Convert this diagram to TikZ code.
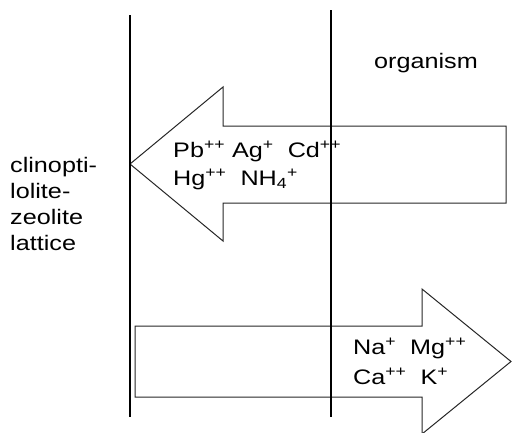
\documentclass[tikz,border=0pt]{standalone}
\usepackage{fontspec}
\setmainfont{Liberation Sans}[FakeStretch=1.2]
\begin{document}
\begin{tikzpicture}[x=1pt,y=-1pt,
  lbl/.style={anchor=base west,inner sep=0pt,font=\fontsize{21}{26}\selectfont},
  divider/.style={draw=black,line width=1.3pt},
  flow/.style={draw=black!85,line width=1pt,line join=miter}]
\useasboundingbox (0,0) rectangle (512,432);
% arrows
\draw[flow] (130,164) -- (223,87) -- (223,126) -- (506,126) -- (506,203) -- (223,203) -- (223,241) -- cycle;
\draw[flow] (135,326) -- (422,326) -- (422,289) -- (511,361.5) -- (422,434) -- (422,397) -- (135,397) -- cycle;
% dividers
\coordinate (lt) at (130,15);
\coordinate (lb) at (130,417);
\coordinate (rt) at (331,10);
\coordinate (rb) at (331,417);
\draw[divider] (lt) -- (lb);
\draw[divider] (rt) -- (rb);
% labels
\node[lbl] (org) at (374,68) {organism};
\node[lbl] (z1) at (10,172) {clinopti-};
\node[lbl] (z2) at (10,198) {lolite-};
\node[lbl] (z3) at (10,224) {zeolite};
\node[lbl] (z4) at (10,250) {lattice};
\node[lbl] (in1) at (173,157) {Pb\textsuperscript{++} Ag\textsuperscript{+}\ \ Cd\textsuperscript{++}};
\node[lbl] (in2) at (173,185) {Hg\textsuperscript{++}\ \ NH\textsubscript{4}\textsuperscript{+}};
\node[lbl] (out1) at (353,354) {Na\textsuperscript{+}\ \ Mg\textsuperscript{++}};
\node[lbl] (out2) at (353,384) {Ca\textsuperscript{++}\ \ K\textsuperscript{+}};
\end{tikzpicture}
\end{document}
